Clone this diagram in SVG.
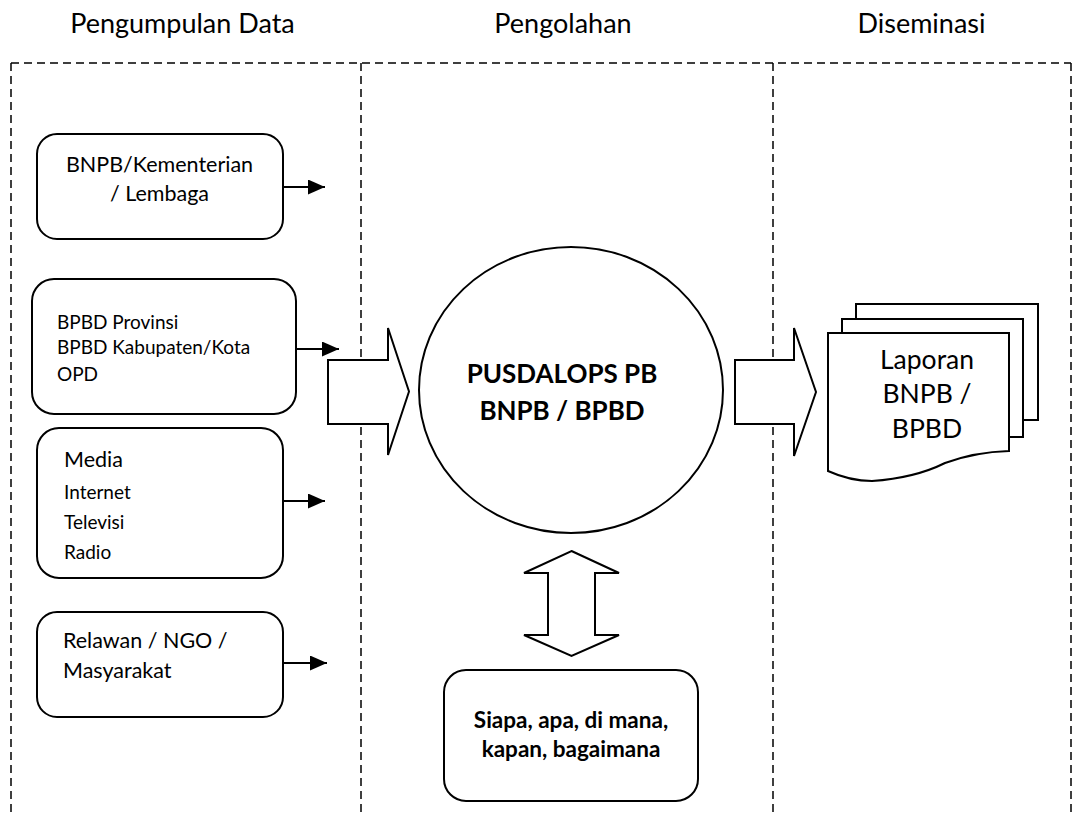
<svg xmlns="http://www.w3.org/2000/svg" width="1073" height="815" viewBox="0 0 1073 815">
<style>
text{font-family:Lato,"Open Sans","Liberation Sans",sans-serif;fill:#000}
.hdr{font-size:27px;text-anchor:middle}
.dash{fill:none;stroke:#000;stroke-width:1.5;stroke-dasharray:8 5}
.box{fill:#fff;stroke:#000;stroke-width:2}
.conn{fill:none;stroke:#000;stroke-width:2}
.big{font-size:21.5px}
.sm{font-size:19px}
.bold{font-weight:bold}
.mid{text-anchor:middle}
.q{font-size:22.5px}
.lap{font-size:26.5px}
</style>
<defs>
<marker id="ah" markerUnits="userSpaceOnUse" markerWidth="17" markerHeight="15" refX="17" refY="7.5" orient="auto">
<polygon points="0,0 17,7.5 0,15" fill="#000"/>
</marker>
</defs>
<rect width="1073" height="815" fill="#fff"/>
<g id="headers">
<text class="hdr" x="182.5" y="33">Pengumpulan Data</text>
<text class="hdr" x="563" y="33">Pengolahan</text>
<text class="hdr" x="921.5" y="33">Diseminasi</text>
</g>
<g id="frame">
<path class="dash" d="M11,63 H1071"/>
<path class="dash" d="M11,63 V815"/>
<path class="dash" d="M361,63 V815"/>
<path class="dash" d="M773,63 V815"/>
<path class="dash" d="M1071,63 V815"/>
</g>
<g id="connectors">
<path class="conn" d="M283,187 H325" marker-end="url(#ah)"/>
<path class="conn" d="M296,349 H339" marker-end="url(#ah)"/>
<path class="conn" d="M283,501 H325" marker-end="url(#ah)"/>
<path class="conn" d="M283,663 H327" marker-end="url(#ah)"/>
<polygon class="box" id="arrow-in" points="328,360 388,360 388,328 409,391.5 388,455 388,424 328,424"/>
<polygon class="box" id="arrow-out" points="735,360 794,360 794,328 816,392 794,456 794,424 735,424"/>
<polygon class="box" id="arrow-both" points="571.5,551 619,573 595,573 595,635 619,635 571.5,656 524,635 548,635 548,573 524,573"/>
</g>
<g id="n-bnpb">
<rect class="box" x="37" y="134" width="246" height="105" rx="20"/>
<text class="big mid" x="159.5" y="172">BNPB/Kementerian</text>
<text class="big mid" x="159.5" y="201">/ Lembaga</text>
</g>
<g id="n-bpbd">
<rect class="box" x="32" y="279" width="264" height="135" rx="22"/>
<text class="sm" x="57" y="329">BPBD Provinsi</text>
<text class="sm" x="57" y="354">BPBD Kabupaten/Kota</text>
<text class="sm" x="57" y="381">OPD</text>
</g>
<g id="n-media">
<rect class="box" x="37" y="428" width="246" height="150" rx="22"/>
<text class="big" x="64" y="467">Media</text>
<text class="sm" x="64" y="499">Internet</text>
<text class="sm" x="64" y="529">Televisi</text>
<text class="sm" x="64" y="559">Radio</text>
</g>
<g id="n-relawan">
<rect class="box" x="37" y="612" width="246" height="105" rx="20"/>
<text class="big" x="63" y="648">Relawan / NGO /</text>
<text class="big" x="63" y="678">Masyarakat</text>
</g>
<g id="n-pusdalops">
<ellipse class="box" cx="571" cy="390" rx="152" ry="143"/>
<text class="bold mid" style="font-size:26px" x="562" y="383">PUSDALOPS PB</text>
<text class="bold mid" style="font-size:26px" x="562" y="420">BNPB / BPBD</text>
</g>
<g id="n-siapa">
<rect class="box" x="444" y="670" width="254" height="131" rx="22"/>
<text class="bold mid q" x="571" y="728">Siapa, apa, di mana,</text>
<text class="bold mid q" x="571" y="757">kapan, bagaimana</text>
</g>
<g id="n-laporan">
<rect class="box" x="856" y="304" width="182" height="116"/>
<rect class="box" x="842" y="319" width="181" height="118"/>
<path class="box" d="M828,333 H1009 V451 Q975,452 945,463 Q915,478 872,481 Q850,481 828,471 Z"/>
<text class="mid lap" x="927" y="369">Laporan</text>
<text class="mid lap" x="927" y="403">BNPB /</text>
<text class="mid lap" x="927" y="438">BPBD</text>
</g>
</svg>
